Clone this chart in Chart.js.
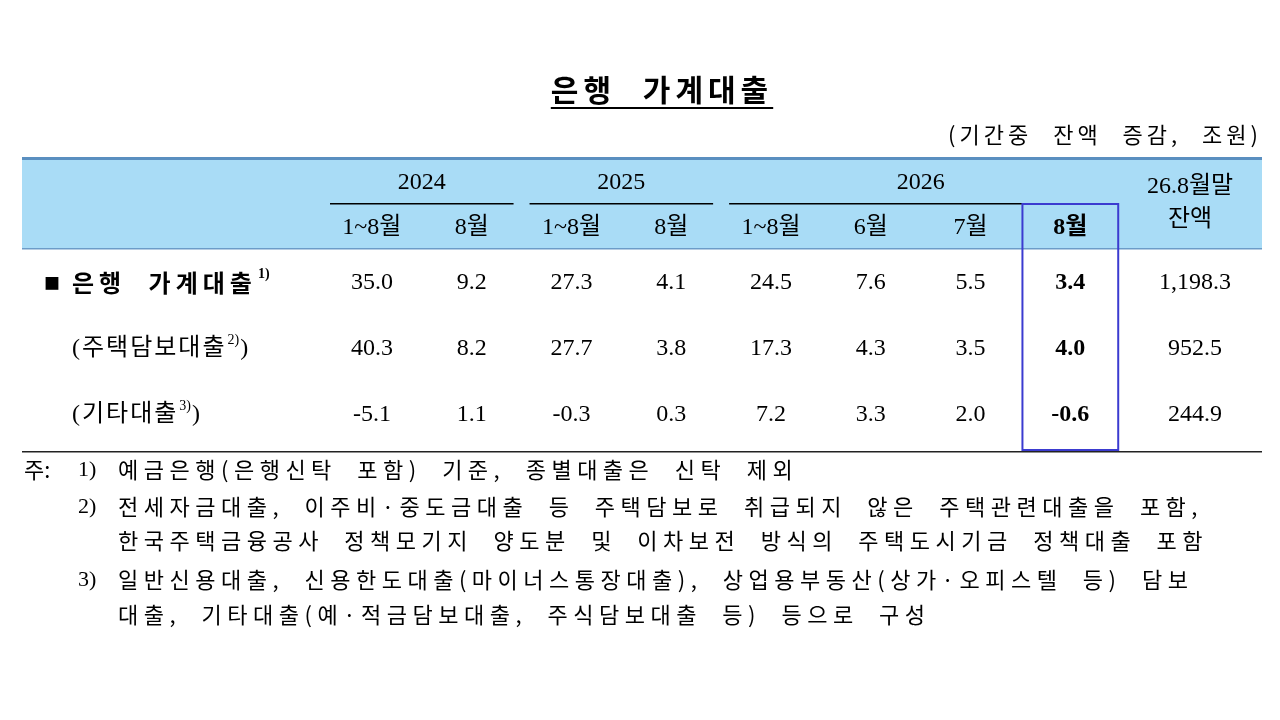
<!DOCTYPE html>
<html><head><meta charset="utf-8">
<script src="https://cdn.jsdelivr.net/npm/chart.js@4/dist/chart.umd.min.js"></script>
<style>html,body{margin:0;background:#fff}#w{width:1280px;height:720px}</style>
</head><body><div id="w"><canvas id="c"></canvas></div>
<script>
const columns = ["2024 1~8월","2024 8월","2025 1~8월","2025 8월","2026 1~8월","2026 6월","2026 7월","2026 8월","26.8월말 잔액"];
const subHeaders = ["1~8월","8월","1~8월","8월","1~8월","6월","7월","8월"];
const years = [["2024",0,1],["2025",2,3],["2026",4,7]];
const rowLabels = ["은행 가계대출","(주택담보대출)","(기타대출)"];
const rowSup = ["1)","2)","3)"];
const totalLoans = ["35.0","9.2","27.3","4.1","24.5","7.6","5.5","3.4","1,198.3"];
const mortgage = ["40.3","8.2","27.7","3.8","17.3","4.3","3.5","4.0","952.5"];
const otherLoans = ["-5.1","1.1","-0.3","0.3","7.2","3.3","2.0","-0.6","244.9"];
const rows = [totalLoans, mortgage, otherLoans];
const title = "은행 가계대출";
const unit = "(기간중 잔액 증감, 조원)";
const notes = [
 ["주:","1)","예금은행(은행신탁 포함) 기준, 종별대출은 신탁 제외"],
 ["","2)","전세자금대출, 이주비·중도금대출 등 주택담보로 취급되지 않은 주택관련대출을 포함,"],
 ["","","한국주택금융공사 정책모기지 양도분 및 이차보전 방식의 주택도시기금 정책대출 포함"],
 ["","3)","일반신용대출, 신용한도대출(마이너스통장대출), 상업용부동산(상가·오피스텔 등) 담보"],
 ["","","대출, 기타대출(예·적금담보대출, 주식담보대출 등) 등으로 구성"]
];
const F = '"Liberation Serif","Noto Sans CJK KR",serif';
const K = '"Noto Sans CJK KR",sans-serif';
function sp(ctx,l,w){ctx.letterSpacing=l+'px';ctx.wordSpacing=w+'px';}
const tablePlugin = {
 id:'table',
 afterDraw(chart){
  const ctx=chart.ctx, x=chart.scales.x, y=chart.scales.y, ca=chart.chartArea;
  const cw=(x.getPixelForValue(1)-x.getPixelForValue(0));
  const L=22,R=1262;
  ctx.save();
  ctx.fillStyle='#000';ctx.textAlign='center';ctx.textBaseline='middle';
  sp(ctx,5,15);ctx.font='bold 30px '+K;ctx.fillText(title,662,90);
  const tw=ctx.measureText(title).width;ctx.fillRect(662-tw/2,107,tw,2);
  sp(ctx,4,12);ctx.font='22px '+K;ctx.textAlign='right';ctx.fillText(unit,R,135);
  sp(ctx,0,0);
  ctx.fillStyle='#a9dcf6';ctx.fillRect(L,158,R-L,ca.top-160);
  ctx.fillStyle='#5a8fc0';ctx.fillRect(L,157,R-L,3);
  ctx.fillStyle='#6c9cc8';ctx.fillRect(L,ca.top-2,R-L,1.5);
  ctx.fillStyle='#000';ctx.textAlign='center';
  years.forEach(([t,a,b])=>{
   const x0=x.getPixelForValue(a)-cw/2+8, x1=x.getPixelForValue(b)+cw/2-8;
   ctx.font='24px '+F;ctx.fillText(t,(x0+x1)/2,183);
   ctx.fillRect(x0,203,x1-x0,1.5);
  });
  subHeaders.forEach((t,i)=>{
   ctx.font=(i===7?'bold ':'')+'24px '+F;
   ctx.fillText(t,x.getPixelForValue(i),228);
  });
  const lx=x.getPixelForValue(8);
  ctx.font='24px '+F;ctx.fillText("26.8월말",lx+20,187);ctx.fillText("잔액",lx+20,220);
  rows.forEach((r,ri)=>{
   const py=y.getPixelForValue(ri);
   ctx.textAlign='left';
   let sx;
   if(ri===0){ctx.font='16px '+K;ctx.fillText('■',44,py);sp(ctx,5,12);ctx.font='bold 24px '+K;ctx.fillText(rowLabels[0],72,py);sx=72+ctx.measureText(rowLabels[0]).width;sp(ctx,0,0);}
   else{sp(ctx,2,0);ctx.font='24px '+F;const t=rowLabels[ri];const base=t.slice(0,-1);ctx.fillText(base,72,py);sx=72+ctx.measureText(base).width;sp(ctx,0,0);}
   ctx.font=(ri===0?'bold ':'')+'14px '+F;ctx.fillText(rowSup[ri],sx+1,py-9);
   if(ri>0){const w2=ctx.measureText(rowSup[ri]).width;ctx.font='24px '+F;ctx.fillText(')',sx+w2+2,py);}
   ctx.textAlign='center';
   r.forEach((v,ci)=>{
    ctx.font=(ci===7?'bold ':'')+'24px '+F;
    ctx.fillText(v,x.getPixelForValue(ci)+(ci===8?25:0),py);
   });
  });
  ctx.fillStyle='#222';ctx.fillRect(L,ca.bottom+3,R-L,1.5);
  const bx=x.getPixelForValue(7);
  ctx.strokeStyle='#3b3bd0';ctx.lineWidth=2;
  ctx.strokeRect(bx-cw/2+2,204,cw-4,ca.bottom+2-204);
  ctx.fillStyle='#000';ctx.textAlign='left';
  const ny=[470,507,541,580,615];
  notes.forEach((n,i)=>{ctx.font='22px '+K;ctx.fillText(n[0],24,ny[i]);ctx.font='22px '+F;ctx.fillText(n[1],78,ny[i]);sp(ctx,5.5,10);ctx.font='22px '+K;ctx.fillText(n[2],118,ny[i]);sp(ctx,0,0);});
  ctx.restore();
 }
};
new Chart(document.getElementById('c'),{
 type:'bar',
 data:{labels:columns,datasets:[{data:[],backgroundColor:'transparent'}]},
 options:{responsive:true,maintainAspectRatio:false,animation:false,
  layout:{padding:{left:322,right:60,top:250,bottom:272}},
  plugins:{legend:{display:false},tooltip:{enabled:false}},
  scales:{x:{type:'category',display:false},
          y:{type:'category',labels:rowLabels,offset:true,display:false}}},
 plugins:[tablePlugin]
});
</script></body></html>
